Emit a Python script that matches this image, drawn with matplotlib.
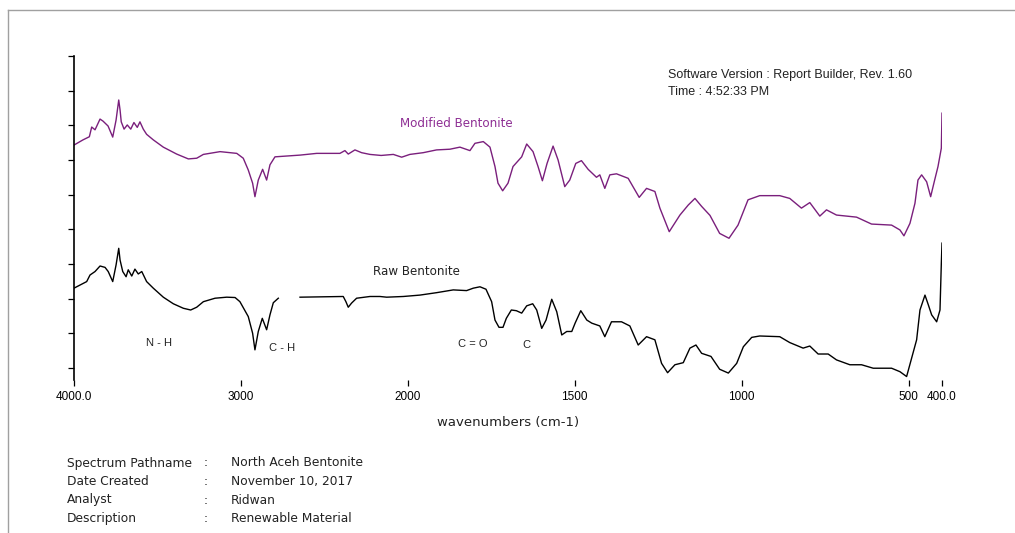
import numpy as np
import matplotlib
matplotlib.use("Agg")
import matplotlib.pyplot as plt
from matplotlib.lines import Line2D

# FTIR spectra, %T against wavenumber (cm-1)
wn_mod = [4000, 3946, 3908, 3894, 3874, 3844, 3826, 3796, 3768, 3748,
          3732, 3724, 3717, 3700, 3681, 3660, 3641, 3621, 3605, 3585,
          3565, 3525, 3465, 3385, 3315, 3265, 3225, 3125, 3025, 2986,
          2956, 2930, 2916, 2896, 2870, 2846, 2826, 2796, 2646, 2546,
          2407, 2377, 2357, 2317, 2277, 2227, 2160, 2087, 2037, 1994,
          1954, 1914, 1874, 1844, 1814, 1799, 1774, 1754, 1739, 1730,
          1716, 1700, 1685, 1659, 1644, 1625, 1610, 1597, 1583, 1565,
          1550, 1530, 1515, 1497, 1480, 1460, 1435, 1425, 1410, 1395,
          1375, 1340, 1307, 1285, 1260, 1245, 1217, 1185, 1160, 1140,
          1120, 1095, 1066, 1038, 1011, 981, 946, 886, 856, 821,
          796, 766, 746, 716, 656, 611, 551, 526, 514, 496,
          481, 472, 461, 446, 434, 422, 412, 402, 400]
t_mod = [74.3, 75.8, 76.7, 79.5, 78.7, 81.8, 81.2, 79.8, 76.6, 81.5,
         87.3, 84.4, 81.0, 78.9, 80.1, 78.9, 80.8, 79.4, 81.0, 78.9,
         77.4, 75.8, 73.7, 71.7, 70.3, 70.5, 71.6, 72.4, 71.9, 70.5,
         67.1, 63.3, 59.4, 64.2, 67.3, 64.2, 68.6, 70.9, 71.4, 71.9,
         71.9, 72.7, 71.7, 72.9, 72.1, 71.6, 71.3, 71.6, 70.8, 71.6,
         72.1, 72.9, 73.1, 73.7, 72.7, 74.8, 75.3, 73.7, 68.1, 63.3,
         61.1, 63.3, 68.1, 70.9, 74.6, 72.4, 68.1, 64.0, 69.0, 74.0,
         70.0, 62.3, 64.2, 69.0, 69.8, 67.3, 65.0, 65.7, 61.8, 65.7,
         66.0, 64.7, 59.2, 61.8, 60.9, 56.1, 49.3, 54.1, 57.0, 58.9,
         56.6, 54.0, 48.8, 47.4, 51.2, 58.5, 59.7, 59.7, 58.9, 56.1,
         57.7, 53.8, 55.6, 54.1, 53.5, 51.5, 51.2, 49.8, 48.1, 51.7,
         57.5, 64.2, 65.7, 63.7, 59.4, 64.2, 68.1, 73.4, 83.5]

# raw sample has a dropout around 2700 cm-1 (nan breaks the line)
wn_raw = [4000, 3964, 3924, 3904, 3874, 3844, 3814, 3795, 3768, 3748,
          3732, 3724, 3708, 3688, 3675, 3654, 3635, 3615, 3594, 3565,
          3525, 3465, 3405, 3345, 3301, 3265, 3225, 3155, 3085, 3035,
          3006, 2956, 2930, 2916, 2896, 2872, 2846, 2826, 2806, 2776,
          2710, 2646, 2387, 2371, 2357, 2337, 2307, 2227, 2167, 2127,
          2027, 1964, 1914, 1864, 1824, 1804, 1784, 1766, 1749, 1739,
          1727, 1715, 1705, 1690, 1675, 1659, 1644, 1626, 1614, 1599,
          1586, 1569, 1554, 1539, 1524, 1509, 1499, 1482, 1464, 1449,
          1425, 1410, 1390, 1360, 1335, 1310, 1285, 1260, 1240, 1222,
          1200, 1175, 1155, 1137, 1120, 1092, 1066, 1040, 1015, 995,
          970, 946, 886, 856, 816, 796, 771, 741, 716, 676,
          641, 606, 551, 526, 506, 491, 476, 466, 451, 441,
          431, 416, 406, 402, 400]
t_raw = [33.0, 33.9, 34.9, 36.8, 37.8, 39.4, 39.0, 37.8, 34.9, 39.7,
         44.5, 41.1, 37.8, 36.3, 38.3, 36.5, 38.5, 37.1, 37.8, 34.9,
         33.0, 30.4, 28.5, 27.2, 26.7, 27.5, 29.1, 30.1, 30.4, 30.3,
         29.1, 24.8, 20.0, 15.2, 20.5, 24.3, 21.0, 25.3, 28.8, 30.1,
         np.nan, 30.4, 30.6, 29.1, 27.5, 28.7, 30.1, 30.6, 30.6, 30.4,
         30.6, 31.0, 31.7, 32.5, 32.3, 33.0, 33.4, 32.7, 29.1, 23.8,
         21.7, 21.7, 24.3, 26.7, 26.5, 25.8, 27.9, 28.5, 26.7, 21.4,
         23.8, 29.8, 26.2, 19.5, 20.5, 20.5, 22.9, 26.5, 23.8, 22.9,
         22.1, 19.0, 23.3, 23.3, 22.1, 16.6, 19.0, 18.1, 11.3, 8.6,
         10.9, 11.5, 15.7, 16.6, 14.2, 13.3, 9.6, 8.5, 11.3, 16.1,
         18.8, 19.2, 19.0, 17.3, 15.7, 16.3, 14.0, 14.0, 12.3, 10.9,
         10.9, 9.9, 9.9, 8.9, 7.5, 12.8, 18.1, 26.7, 31.0, 28.2,
         25.3, 23.3, 26.7, 40.2, 46.0]

tick_pos = [4000, 3000, 2000, 1500, 1000, 500, 400]
tick_lab = ["4000.0", "3000", "2000", "1500", "1000", "500", "400.0"]

meta_keys = ["Spectrum Pathname", "Date Created", "Analyst", "Description"]
meta_vals = ["North Aceh Bentonite", "November 10, 2017", "Ridwan",
             "Renewable Material"]

PURPLE = "#7a1f7c"
W, H = 1015, 533


def fwd(w):
    # below 2000 cm-1 the axis is stretched 2x
    w = np.asarray(w, dtype=float)
    return np.where(w >= 2000, w, 2 * w - 2000)


def inv(f):
    f = np.asarray(f, dtype=float)
    return np.where(f >= 2000, f, (f + 2000) / 2)


def fx(px):
    return px / W


def fy(py):
    return 1 - py / H


fig = plt.figure(figsize=(W / 100, H / 100), dpi=100)
fig.patch.set_facecolor("white")
ax = fig.add_axes([fx(74), fy(380), fx(942) - fx(74), fy(56) - fy(380)])

ax.plot(wn_mod, t_mod, color=PURPLE, lw=1.0)
ax.plot(wn_raw, t_raw, color="black", lw=1.0)

ax.set_xscale("function", functions=(fwd, inv))
ax.set_xlim(4000, 400)
ax.set_ylim(6.5, 100)

ax.set_xticks(tick_pos)
ax.set_xticklabels(tick_lab, fontfamily="Liberation Sans", fontsize=8.5)
ax.set_xticks([], minor=True)
ax.set_yticks(np.arange(10, 101, 10))
ax.set_yticklabels([])
ax.tick_params(axis="x", length=4, width=0.9, pad=4, color="black")
ax.tick_params(axis="y", length=4, width=0.9, color="black")
for side in ("top", "right", "bottom"):
    ax.spines[side].set_visible(False)
ax.spines["left"].set_linewidth(1.2)

ax.set_xlabel("wavenumbers (cm-1)", fontsize=9.5, labelpad=9,
              fontfamily="DejaVu Sans", color="#222222")

# series names and band assignments
ax.text(1856, 80.4, "Modified Bentonite", color="#8e2f94", fontsize=8.6,
        ha="center", va="center")
ax.text(2209, 37.7, "Raw Bentonite", color="#222222", fontsize=8.6,
        ha="left", va="center")
band_kw = dict(fontfamily="Liberation Sans", fontsize=8, color="#222222",
               ha="center", va="center")
ax.text(3491, 17.2, "N - H", **band_kw)
ax.text(2754, 15.8, "C - H", **band_kw)
ax.text(1805, 16.9, "C = O", **band_kw)
ax.text(1644, 16.6, "C", **band_kw)

# report header
head_kw = dict(fontfamily="Liberation Sans", fontsize=9, va="center",
               color="#222222")
fig.text(fx(668), fy(75), "Software Version : Report Builder, Rev. 1.60",
         **head_kw)
fig.text(fx(668), fy(92), "Time : 4:52:33 PM", **head_kw)

# report footer
for i, (k, v) in enumerate(zip(meta_keys, meta_vals)):
    y = fy(463 + i * 18.5)
    fig.text(fx(67), y, k, fontsize=8.8, va="center", color="#222222")
    fig.text(fx(204), y, ":", fontsize=8.8, va="center", color="#222222")
    fig.text(fx(231), y, v, fontsize=8.8, va="center", color="#222222")

# page frame (left and top edges)
fig.add_artist(Line2D([fx(8), fx(8)], [fy(10), 0], transform=fig.transFigure,
                      color="#a0a0a0", lw=1.0))
fig.add_artist(Line2D([fx(8), 1], [fy(10), fy(10)], transform=fig.transFigure,
                      color="#a0a0a0", lw=1.0))

fig.savefig("out.png", dpi=100, facecolor="white")
